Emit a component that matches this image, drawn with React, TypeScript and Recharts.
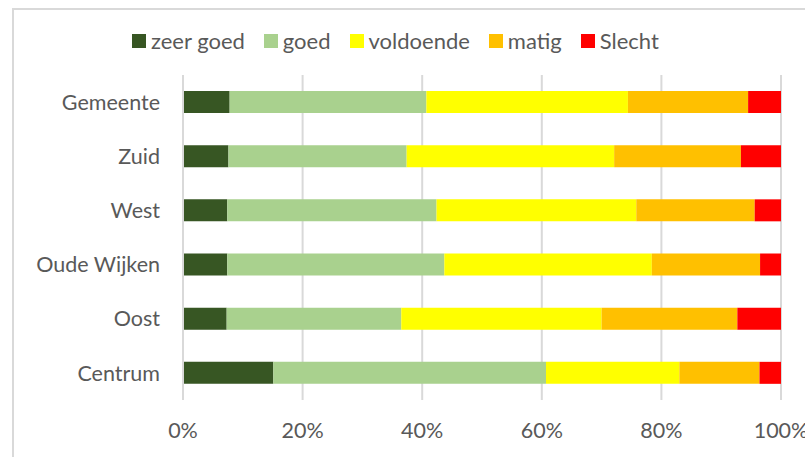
import React from "react";
import {
  BarChart,
  Bar,
  XAxis,
  YAxis,
  CartesianGrid,
  Legend,
} from "recharts";

const wijken = ["Gemeente", "Zuid", "West", "Oude Wijken", "Oost", "Centrum"];

const zeerGoed = [7.8, 7.6, 7.4, 7.4, 7.3, 15.1];
const goed = [32.9, 29.8, 35.0, 36.3, 29.2, 45.6];
const voldoende = [33.7, 34.7, 33.4, 34.7, 33.5, 22.3];
const matig = [20.1, 21.2, 19.8, 18.1, 22.7, 13.4];
const slecht = [5.5, 6.7, 4.4, 3.5, 7.3, 3.6];

const xTicks = [0, 20, 40, 60, 80, 100];

const series = [
  { key: "zeerGoed", name: "zeer goed", color: "#375623", values: zeerGoed },
  { key: "goed", name: "goed", color: "#A9D18E", values: goed },
  { key: "voldoende", name: "voldoende", color: "#FFFF00", values: voldoende },
  { key: "matig", name: "matig", color: "#FFC000", values: matig },
  { key: "slecht", name: "Slecht", color: "#FF0000", values: slecht },
];

const data = wijken.map((wijk, i) => {
  const row: Record<string, string | number> = { wijk };
  series.forEach((s) => {
    row[s.key] = s.values[i];
  });
  return row;
});

const font = "Lato, 'Open Sans', sans-serif";
const textColor = "#595959";
const gridColor = "#d9d9d9";

const renderLegend = () => (
  <div
    style={{
      display: "flex",
      paddingLeft: 132,
      fontFamily: font,
      fontSize: 22,
      color: textColor,
      lineHeight: "20px",
    }}
  >
    {series.map((s) => (
      <div
        key={s.key}
        style={{ display: "flex", alignItems: "center", marginRight: 19 }}
      >
        <span
          style={{
            display: "inline-block",
            width: 14,
            height: 14,
            background: s.color,
            marginRight: 5,
          }}
        />
        <span>{s.name}</span>
      </div>
    ))}
  </div>
);

export default function App() {
  return (
    <div
      style={{
        position: "absolute",
        left: 0,
        top: 0,
        width: 805,
        height: 457,
        overflow: "hidden",
        background: "#fff",
      }}
    >
      <div
        style={{
          position: "absolute",
          left: 12,
          top: 8,
          width: 1000,
          height: 1000,
          borderLeft: `2px solid ${gridColor}`,
          borderTop: `2px solid ${gridColor}`,
        }}
      />
      <div style={{ position: "absolute", left: 0, top: 0 }}>
        <BarChart
          width={805}
          height={457}
          data={data}
          layout="vertical"
          margin={{ top: 75, right: 24, bottom: 0, left: 0 }}
          barSize={22}
        >
          <CartesianGrid
            horizontal={false}
            stroke={gridColor}
            strokeWidth={2}
          />
          <XAxis
            type="number"
            domain={[0, 100]}
            ticks={xTicks}
            tickFormatter={(v) => `${v}%`}
            axisLine={false}
            tickLine={false}
            tickSize={0}
            tickMargin={23}
            height={57}
            interval={0}
            tick={{ fill: textColor, fontSize: 21.5, fontFamily: font }}
          />
          <YAxis
            type="category"
            dataKey="wijk"
            width={183}
            axisLine={{ stroke: gridColor, strokeWidth: 2 }}
            tickLine={false}
            tickSize={0}
            tickMargin={23}
            interval={0}
            tick={{ fill: textColor, fontSize: 21.5, fontFamily: font }}
          />
          <Legend
            verticalAlign="middle"
            align="center"
            layout="horizontal"
            content={renderLegend}
            wrapperStyle={{ top: 31, left: 0, width: 805 }}
          />
          {series.map((s) => (
            <Bar
              key={s.key}
              dataKey={s.key}
              name={s.name}
              stackId="a"
              fill={s.color}
              isAnimationActive={false}
            />
          ))}
        </BarChart>
      </div>
    </div>
  );
}
